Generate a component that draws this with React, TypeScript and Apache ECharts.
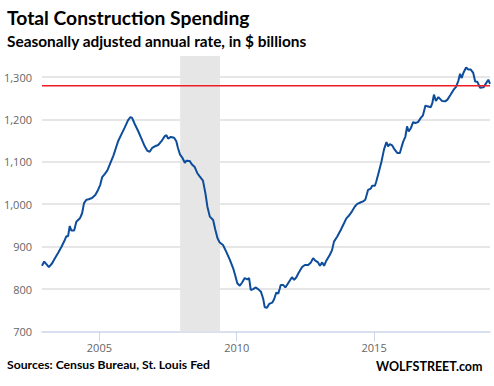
import React, { useEffect, useRef } from "react";
import * as echarts from "echarts";

// Time (decimal years) and total construction spending ($ billions, SAAR)
const pointYears = [
  2002.91, 2002.99, 2003.07, 2003.16, 2003.28, 2003.38, 2003.5, 2003.62, 2003.74, 2003.8,
  2003.86, 2003.92, 2003.98, 2004.08, 2004.16, 2004.29, 2004.37, 2004.44, 2004.53, 2004.61,
  2004.73, 2004.85, 2004.95, 2005.03, 2005.1, 2005.2, 2005.29, 2005.51, 2005.68, 2005.8,
  2005.92, 2006.04, 2006.13, 2006.19, 2006.29, 2006.41, 2006.53, 2006.65, 2006.75, 2006.83,
  2006.92, 2007.02, 2007.14, 2007.26, 2007.38, 2007.44, 2007.5, 2007.6, 2007.72, 2007.8,
  2007.86, 2007.93, 2008.01, 2008.11, 2008.17, 2008.29, 2008.37, 2008.47, 2008.56, 2008.65,
  2008.77, 2008.86, 2008.93, 2009.02, 2009.14, 2009.22, 2009.3, 2009.38, 2009.5, 2009.62,
  2009.75, 2009.87, 2009.95, 2010.02, 2010.11, 2010.19, 2010.29, 2010.39, 2010.45, 2010.51,
  2010.6, 2010.68, 2010.78, 2010.88, 2010.96, 2011.02, 2011.1, 2011.18, 2011.29, 2011.36,
  2011.44, 2011.51, 2011.57, 2011.6, 2011.69, 2011.77, 2011.87, 2012.01, 2012.09, 2012.17,
  2012.26, 2012.38, 2012.48, 2012.6, 2012.7, 2012.78, 2012.86, 2012.96, 2013.03, 2013.11,
  2013.18, 2013.26, 2013.39, 2013.47, 2013.54, 2013.66, 2013.79, 2013.91, 2013.99, 2014.08,
  2014.17, 2014.3, 2014.39, 2014.52, 2014.6, 2014.68, 2014.78, 2014.88, 2014.93, 2015.03,
  2015.08, 2015.17, 2015.27, 2015.36, 2015.45, 2015.51, 2015.57, 2015.66, 2015.75, 2015.85,
  2015.94, 2015.99, 2016.06, 2016.14, 2016.2, 2016.26, 2016.34, 2016.42, 2016.5, 2016.6,
  2016.7, 2016.78, 2016.87, 2016.97, 2017.06, 2017.12, 2017.18, 2017.25, 2017.34, 2017.47,
  2017.59, 2017.67, 2017.79, 2017.89, 2017.99, 2018.07, 2018.13, 2018.19, 2018.25, 2018.35,
  2018.43, 2018.52, 2018.61, 2018.68, 2018.76, 2018.86, 2018.98, 2019.08, 2019.16, 2019.22,
];
const spending = [
  855, 865, 859, 852, 861, 873, 886, 900, 916, 925,
  925, 949, 938, 938, 959, 967, 979, 1003, 1011, 1012,
  1015, 1022, 1034, 1046, 1064, 1072, 1080, 1115, 1149, 1165,
  1181, 1198, 1206, 1204, 1189, 1173, 1155, 1137, 1126, 1124,
  1133, 1137, 1140, 1149, 1161, 1163, 1155, 1159, 1157, 1149,
  1133, 1118, 1111, 1098, 1103, 1102, 1094, 1088, 1074, 1066,
  1056, 1026, 995, 971, 963, 940, 920, 910, 904, 888,
  869, 849, 831, 814, 808, 815, 826, 823, 826, 798,
  800, 804, 800, 794, 778, 757, 756, 765, 768, 776,
  792, 789, 802, 810, 810, 804, 814, 828, 822, 828,
  839, 852, 857, 857, 863, 873, 867, 863, 855, 863,
  855, 867, 881, 892, 912, 924, 940, 956, 967, 973,
  981, 995, 1001, 1005, 1007, 1011, 1034, 1037, 1044, 1044,
  1054, 1076, 1101, 1129, 1147, 1137, 1142, 1139, 1129, 1121,
  1121, 1133, 1148, 1160, 1184, 1172, 1180, 1194, 1192, 1194,
  1204, 1210, 1233, 1231, 1229, 1239, 1259, 1244, 1253, 1244,
  1243, 1247, 1259, 1270, 1278, 1292, 1308, 1298, 1310, 1323,
  1318, 1318, 1310, 1290, 1289, 1275, 1276, 1286, 1294, 1284,
];

const yTicks = [700, 800, 900, 1000, 1100, 1200, 1300];
const xTicks = [2005, 2010, 2015];
const xRange = [2002.91, 2019.22];
const recession = [2007.94, 2009.39];
const referenceLevel = 1280;

const title = "Total Construction Spending";
const subtitle = "Seasonally adjusted annual rate, in $ billions";
const sourceText = "Sources: Census Bureau, St. Louis Fed";
const brandText = "WOLFSTREET.com";

const fmt = (v: number) => String(v).replace(/\B(?=(\d{3})+(?!\d))/g, ",");

export default function App() {
  const ref = useRef<HTMLDivElement>(null);

  useEffect(() => {
    if (!ref.current) return;
    const chart = echarts.init(ref.current, undefined, { renderer: "svg" });
    const axisColor = "#ccd6eb";
    const labelStyle = { color: "#666666", fontFamily: "Open Sans", fontSize: 11 };
    const gridColor = "#e6e6e6";
    const texts = [
      {
        type: "text",
        id: "title",
        left: 7,
        top: 8,
        style: { text: title, fontFamily: "Lato", fontWeight: "bold", fontSize: 19.3, fill: "#000" },
      },
      {
        type: "text",
        id: "subtitle",
        left: 7,
        top: 33,
        style: { text: subtitle, fontFamily: "Lato", fontWeight: "bold", fontSize: 15.4, fill: "#000" },
      },
      {
        type: "text",
        id: "source",
        left: 7,
        top: 358,
        style: { text: sourceText, fontFamily: "Lato", fontWeight: "bold", fontSize: 12.2, fill: "#000" },
      },
      {
        type: "text",
        id: "brand",
        left: 376,
        top: 360,
        style: { text: brandText, fontFamily: "Lato", fontWeight: "bold", fontSize: 12.5, fill: "#000" },
      },
    ];
    chart.setOption({
      animation: false,
      backgroundColor: "#ffffff",
      grid: { left: 42, right: 4, top: 56, bottom: 54.5, containLabel: false },
      xAxis: {
        type: "value",
        min: xRange[0],
        max: xRange[1],
        axisLine: { show: true, lineStyle: { color: axisColor, width: 1.5 } },
        axisTick: { show: true, length: 10, lineStyle: { color: axisColor }, customValues: xTicks },
        axisLabel: { ...labelStyle, margin: 10, customValues: xTicks, formatter: (v: number) => String(v) },
        splitLine: { show: false },
      },
      yAxis: {
        type: "value",
        min: 700,
        max: 1350,
        interval: 100,
        axisLine: { show: false },
        axisTick: { show: false },
        axisLabel: { ...labelStyle, margin: 10, customValues: yTicks, formatter: (v: number) => fmt(v) },
        splitLine: { show: false },
      },
      series: [
        {
          type: "line",
          name: "Total construction spending",
          data: pointYears.map((y, i) => [y, spending[i]]),
          showSymbol: false,
          color: "#0d4d9b",
          lineStyle: { color: "#0d4d9b", width: 2 },
          z: 3,
          markArea: {
            silent: true,
            itemStyle: { color: "#e6e6e6" },
            data: [[{ xAxis: recession[0] }, { xAxis: recession[1] }]],
          },
        },
        {
          type: "line",
          name: "level",
          data: [
            [xRange[0], referenceLevel],
            [xRange[1], referenceLevel],
          ],
          showSymbol: false,
          silent: true,
          color: "#ee1c25",
          lineStyle: { color: "#ee1c25", width: 1.5 },
          z: 4,
        },
      ],
      graphic: texts,
    });

    // gridlines placed through the chart's own scales
    const x0 = chart.convertToPixel({ xAxisIndex: 0 }, xRange[0]) as number;
    const x1 = chart.convertToPixel({ xAxisIndex: 0 }, xRange[1]) as number;
    const gridLines = yTicks.slice(1).map((v) => {
      const y = Math.round(chart.convertToPixel({ yAxisIndex: 0 }, v) as number);
      return {
        type: "line",
        id: "grid" + v,
        z: -1,
        silent: true,
        shape: { x1: x0, y1: y, x2: x1, y2: y },
        style: { stroke: gridColor, lineWidth: 2 },
      };
    });
    chart.setOption({ graphic: [...texts, ...gridLines] });

    return () => chart.dispose();
  }, []);

  return <div ref={ref} style={{ width: 494, height: 386, position: "absolute", left: 0, top: 0 }} />;
}
